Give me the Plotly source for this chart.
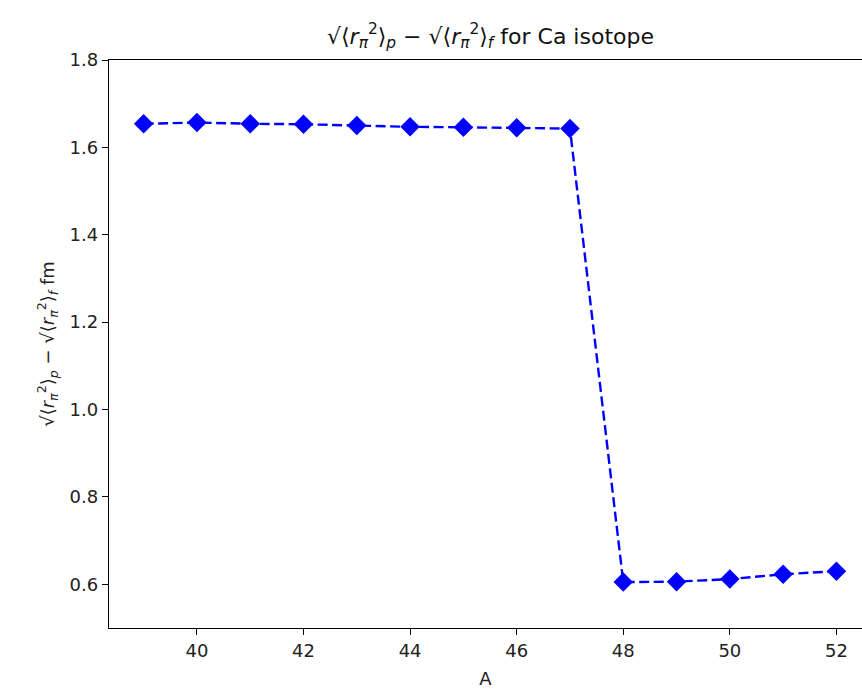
import plotly.graph_objects as go

A = [39, 40, 41, 42, 43, 44, 45, 46, 47, 48, 49, 50, 51, 52]
diff = [1.654, 1.657, 1.654, 1.653, 1.650, 1.647, 1.646, 1.645, 1.643,
        0.605, 0.606, 0.612, 0.623, 0.630]
x_ticks = [40, 42, 44, 46, 48, 50, 52]
y_ticks = [0.6, 0.8, 1.0, 1.2, 1.4, 1.6, 1.8]

font_family = "DejaVu Sans"

fig = go.Figure()
fig.add_trace(go.Scatter(
    x=A, y=diff, mode="lines+markers",
    line=dict(color="#0000ff", width=2.4, dash="10px,4.5px"),
    marker=dict(symbol="diamond", size=15, color="#0000ff"),
    showlegend=False,
))

term = "√⟨<i>r</i><sub><i>π</i></sub><sup>2</sup>⟩<sub><i>{}</i></sub>"
title_txt = term.format("p") + " − " + term.format("f") + " for Ca isotope"
ytitle_txt = term.format("p") + " − " + term.format("f") + " fm"

fig.update_layout(
    width=862, height=691,
    margin=dict(l=109, r=0, t=60, b=63),
    paper_bgcolor="white", plot_bgcolor="white",
    font=dict(family=font_family, size=18, color="#222222"),
    title=dict(text=title_txt, x=(109 + 872) / 2 / 862, xanchor="center",
               y=1 - 36 / 691, yanchor="middle",
               font=dict(size=22, color="#111111")),
)
fig.update_xaxes(
    range=[38.35, 52.48], tickvals=x_ticks,
    ticktext=[str(v) for v in x_ticks],
    showgrid=False, zeroline=False,
    showline=True, linecolor="black", linewidth=1.3, mirror=True,
    ticks="outside", ticklen=6, tickwidth=1.3, tickcolor="black",
    title=dict(text="A", standoff=12, font=dict(size=18)),
)
fig.update_yaxes(
    range=[0.5, 1.8], tickvals=y_ticks,
    ticktext=[f"{v:.1f}" for v in y_ticks],
    showgrid=False, zeroline=False,
    showline=True, linecolor="black", linewidth=1.3,
    ticks="outside", ticklen=6, tickwidth=1.3, tickcolor="black",
    title=dict(text=ytitle_txt, standoff=10, font=dict(size=18)),
)

fig.write_html("out.html")
